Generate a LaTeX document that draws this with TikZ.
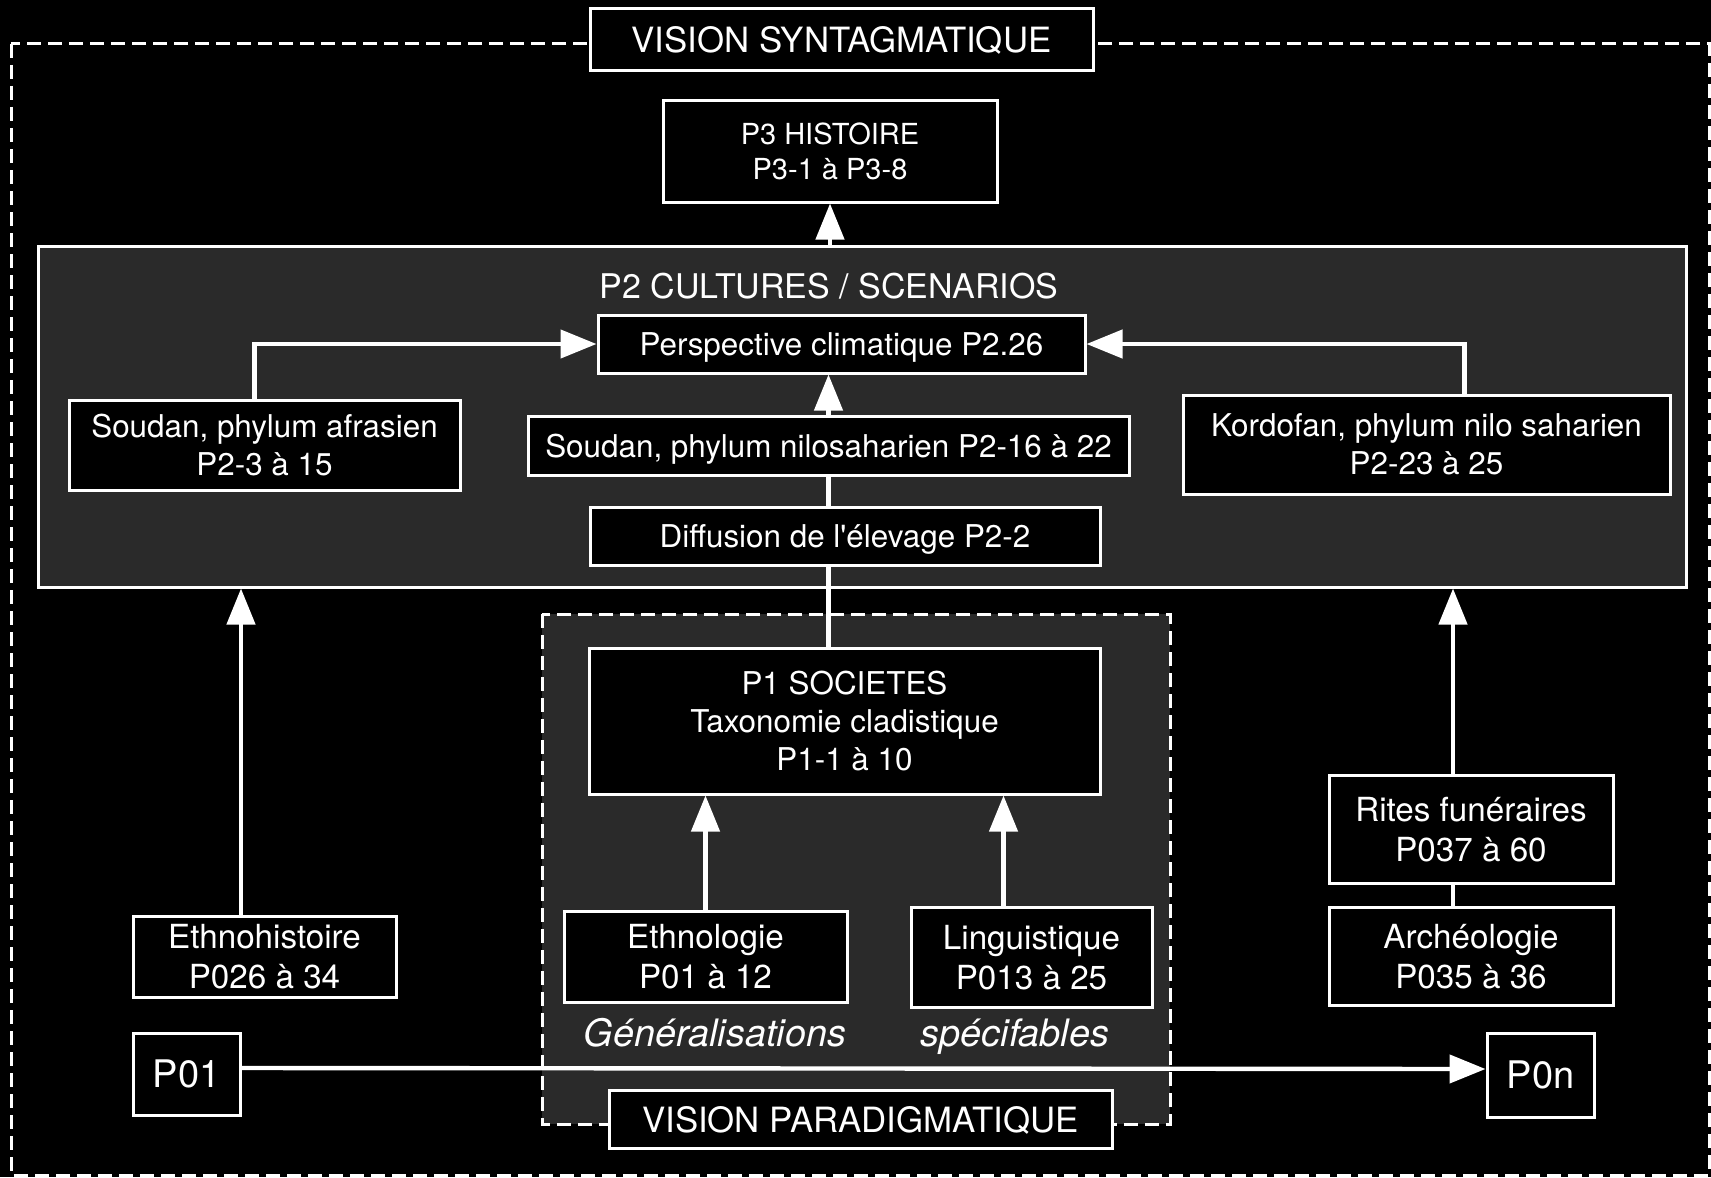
\documentclass[tikz,border=0pt]{standalone}
\usepackage{fontspec}
\setmainfont{TeX Gyre Heros}[Ligatures=TeXOff]
\usetikzlibrary{arrows.meta}
\definecolor{fond}{HTML}{2A2A2A}

\begin{document}
\begin{tikzpicture}[x=0.5pt,y=-0.5pt,
  box/.style={draw=white, line width=1.5pt, fill=black, text=white, align=center,
    inner sep=0pt, text depth=0pt, font=\fontsize{15.7}{19}\selectfont},
  grandbox/.style={box, font=\fontsize{16.6}{20}\selectfont},
  titrebox/.style={box, font=\fontsize{17.4}{20}\selectfont},
  cadre/.style={draw=white, line width=1.5pt, dash pattern=on 7pt off 3.5pt},
  fleche/.style={draw=white, line width=2.2pt, -{Triangle[length=18pt,width=14pt]}},
  lien/.style={draw=white, line width=2.2pt}]
\fill[black] (0,0) rectangle (1711,1177);
\useasboundingbox (0,0) rectangle (1711,1177);
% cadres
\draw[cadre] (11,44) rectangle (1709,1175);
\node[box, fill=fond, minimum width=824pt, minimum height=170.5pt] (p2) at (862,416.5) {};
\filldraw[cadre, fill=fond] (542,614) rectangle (1170,1124);
\node[text=white, font=\fontsize{17}{20}\selectfont] (p2titre) at (829,286) {P2 CULTURES / SCENARIOS};
% boites
\node[titrebox, minimum width=251.5pt, minimum height=31pt] (syn) at (841.5,40) {VISION SYNTAGMATIQUE};
\node[box, font=\fontsize{14.5}{17.5}\selectfont, minimum width=167pt, minimum height=50.5pt] (p3) at (830,151.5) {P3 HISTOIRE\\P3-1 à P3-8};
\node[box, minimum width=243.5pt, minimum height=29pt] (persp) at (841.5,344) {Perspective climatique P2.26};
\node[box, minimum width=195.5pt, minimum height=45pt] (afras) at (264.5,445) {Soudan, phylum afrasien\\P2-3 à 15};
\node[box, minimum width=300.5pt, minimum height=29.5pt] (nilo) at (828.5,445.5) {Soudan, phylum nilosaharien P2-16 à 22};
\node[box, minimum width=243.5pt, minimum height=49.5pt] (kordo) at (1426.5,444.5) {Kordofan, phylum nilo saharien\\P2-23 à 25};
\node[box, minimum width=255pt, minimum height=29pt] (diff) at (845,536) {Diffusion de l'élevage P2-2};
\node[box, minimum width=255.5pt, minimum height=73pt] (p1) at (844.5,721) {P1 SOCIETES\\Taxonomie cladistique\\P1-1 à 10};
\node[grandbox, minimum width=141.5pt, minimum height=45.5pt] (ethno) at (705.5,956.5) {Ethnologie\\P01 à 12};
\node[grandbox, minimum width=120.5pt, minimum height=50pt] (ling) at (1031.5,957) {Linguistique\\P013 à 25};
\node[text=white, anchor=base, font=\fontsize{18.9}{22}\selectfont\itshape] (gen) at (715,1046) {Généralisations};
\node[text=white, anchor=base, font=\fontsize{18.9}{22}\selectfont\itshape] (spec) at (1015,1046) {spécifables};
\node[titrebox, minimum width=251.5pt, minimum height=29pt] (para) at (860.5,1119) {VISION PARADIGMATIQUE};
\node[grandbox, minimum width=131.5pt, minimum height=40.5pt] (ethnoh) at (264.5,956.5) {Ethnohistoire\\P026 à 34};
\node[box, font=\fontsize{19}{22}\selectfont, minimum width=53.5pt, minimum height=41pt] (p01) at (186.5,1074) {P01};
\node[box, font=\fontsize{19}{22}\selectfont, minimum width=53.5pt, minimum height=42pt] (p0n) at (1540.5,1075) {P0n};
\node[grandbox, minimum width=142pt, minimum height=54pt] (rites) at (1471,829) {Rites funéraires\\P037 à 60};
\node[grandbox, minimum width=142pt, minimum height=49pt] (arch) at (1471,956) {Archéologie\\P035 à 36};
% liaisons
\draw[fleche] (p2.north -| p3.south) -- (p3.south);
\draw[fleche] ([xshift=-5pt]afras.north) |- (persp.west);
\draw[fleche] ([xshift=19pt]kordo.north) |- (persp.east);
\draw[fleche] (nilo.north) -- (nilo.north |- persp.south);
\draw[lien] (nilo.south |- diff.north) -- (nilo.south);
\draw[lien] (nilo.south |- p1.north) -- (nilo.south |- diff.south);
\draw[fleche] ([xshift=-11.75pt]ethnoh.north) -- ([xshift=-11.75pt]ethnoh.north |- p2.south);
\draw[fleche] (ethno.north) -- (ethno.north |- p1.south);
\draw[fleche] ([xshift=-14pt]ling.north) -- ([xshift=-14pt]ling.north |- p1.south);
\draw[lien] ([xshift=-9pt]arch.north) -- ([xshift=-9pt]rites.south);
\draw[fleche] ([xshift=-9pt]rites.north) -- ([xshift=-9pt]rites.north |- p2.south);
\draw[fleche] ([yshift=3pt]p01.east) -- ([yshift=3pt]p0n.west);
\end{tikzpicture}
\end{document}
